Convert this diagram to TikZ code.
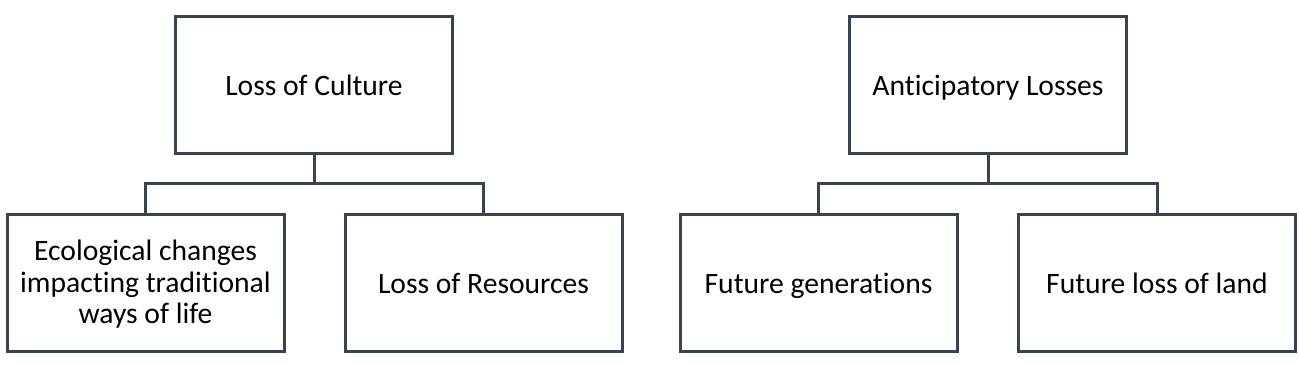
\documentclass[tikz,border=0pt]{standalone}
\usepackage{fontspec}
\setmainfont{Carlito}[Ligatures=CommonOff]
\usepackage{tikz}
\usetikzlibrary{positioning}
\definecolor{slateline}{HTML}{3a4350}
\tikzset{
	lossbox/.style={draw=slateline, line width=1.5pt, fill=white,
		minimum width=138.5pt, minimum height=68.5pt, align=center,
		font=\fontsize{14.8}{15.8}\selectfont, text=black},
	oneline/.style={lossbox, text height=13.5pt, text depth=3.5pt},
	branch/.style={draw=slateline, line width=1.5pt}
}

\begin{document}
\begin{tikzpicture}[x=0.5pt, y=-0.5pt]
				\useasboundingbox (0,0) rectangle (1299,364);
				% left tree
				\node[oneline] (culture) at (314,85) {Loss of Culture};
				\node[lossbox, text depth=1pt] (ecology) at (145.5,283) {Ecological changes\\impacting traditional\\ways of life};
				\node[oneline] (resources) at (483.5,283) {Loss of Resources};
				\coordinate (culturebar) at (314,183);
				\draw[branch] (culture.south) -- (culturebar);
				\draw[branch] (ecology.north) |- (culturebar) -| (resources.north);
				% right tree
				\node[oneline] (anticipatory) at (988,85) {Anticipatory Losses};
				\node[oneline] (generations) at (818.5,283) {Future generations};
				\node[oneline] (land) at (1157,283) {Future loss of land};
				\coordinate (anticipbar) at (988,183);
				\draw[branch] (anticipatory.south) -- (anticipbar);
				\draw[branch] (generations.north) |- (anticipbar) -| (land.north);
			\end{tikzpicture}
\end{document}
